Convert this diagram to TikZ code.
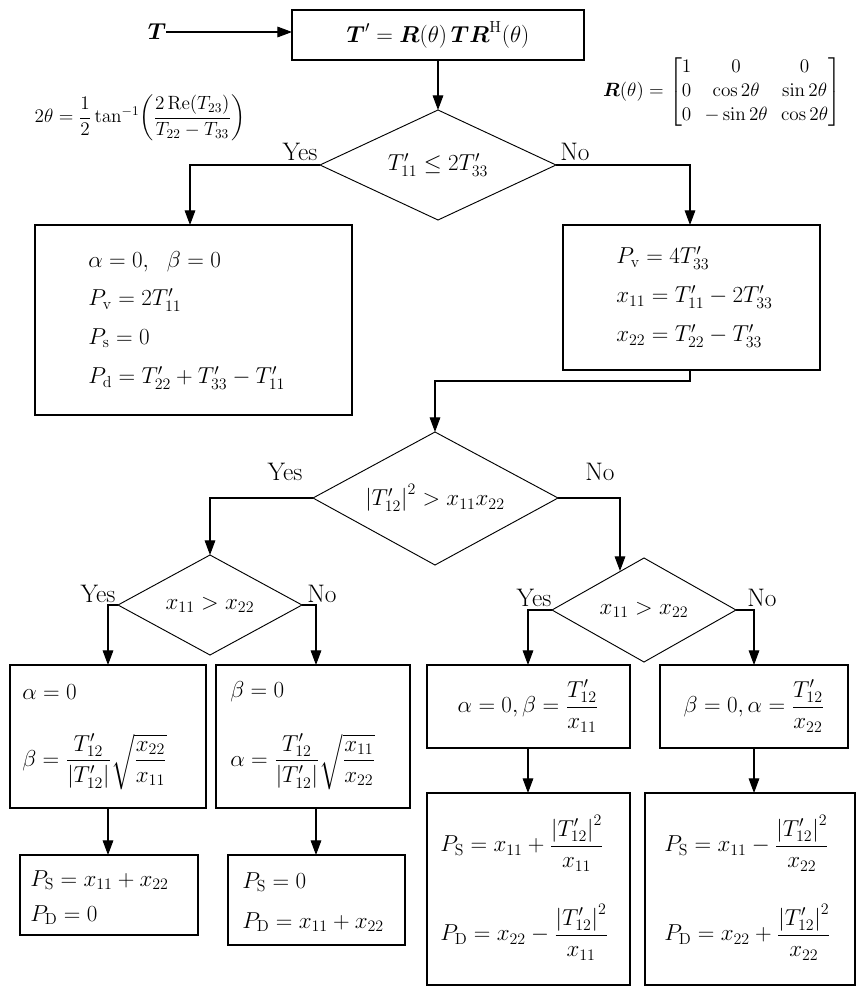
\documentclass[tikz,border=0pt]{standalone}
\usepackage{amsmath}
\usetikzlibrary{arrows.meta,shapes.geometric}
\begin{document}
\begin{tikzpicture}[x=0.75pt,y=-0.75pt,
  box/.style={draw,line width=0.8pt,inner sep=0pt},
  dia/.style={draw,line width=0.7pt},
  lbl/.style={font=\fontsize{19}{22}\selectfont},
  txt/.style={font=\fontsize{17.5}{21}\selectfont,anchor=west,inner sep=0pt},
  ctxt/.style={font=\fontsize{17.5}{21}\selectfont,inner sep=0pt},
  arr/.style={line width=0.8pt,-{Triangle[length=11pt,width=8pt]}},
  ln/.style={line width=0.8pt}]
\useasboundingbox (0,0) rectangle (866,994);
% top
\node[ctxt] (T) at (157,32) {$\boldsymbol{T}$};
\draw[box] (292,10) rectangle (584,60);
\node[ctxt] (top) at (438,35) {$\boldsymbol{T}'=\boldsymbol{R}(\theta)\,\boldsymbol{T}\boldsymbol{R}^{\mathrm{H}}(\theta)$};
\coordinate (topL) at (292,32);
\draw[arr] (T.east) -- (topL);
\node[ctxt,font=\fontsize{14}{16}\selectfont] (f1) at (140,118) {$2\theta=\dfrac{1}{2}\tan^{-1}\!\left(\dfrac{2\,\mathrm{Re}(T_{23})}{T_{22}-T_{33}}\right)$};
\node[ctxt,font=\fontsize{15}{18}\selectfont] (f2) at (722,92) {$\boldsymbol{R}(\theta)=\begin{bmatrix}1&0&0\\0&\cos2\theta&\sin2\theta\\0&-\sin2\theta&\cos2\theta\end{bmatrix}$};
% diamond 1
\coordinate (d1t) at (438,110); \coordinate (d1l) at (320,165);
\coordinate (d1r) at (556,165); \coordinate (d1b) at (438,220);
\draw[dia] (d1t)--(d1r)--(d1b)--(d1l)--cycle;
\node[ctxt] (d1) at (438,165) {$T_{11}'\le 2T_{33}'$};
\coordinate (topB) at (438,60);
\draw[arr] (topB) -- (d1t);
\node[lbl] (y1) at (300,152) {Yes};
\node[lbl] (n1) at (575,152) {No};
% left box
\draw[box] (35,225) rectangle (352,415);
\node[txt] (a1) at (88,262) {$\alpha=0,\ \ \beta=0$};
\node[txt] (a2) at (88,300) {$P_{\mathrm{v}}=2T_{11}'$};
\node[txt] (a3) at (88,338) {$P_{\mathrm{s}}=0$};
\node[txt] (a4) at (88,378) {$P_{\mathrm{d}}=T_{22}'+T_{33}'-T_{11}'$};
\coordinate (lbT) at (190,225);
\draw[arr] (d1l) -| (lbT);
% right box
\draw[box] (563,225) rectangle (820,370);
\node[txt] (b1) at (616,258) {$P_{\mathrm{v}}=4T_{33}'$};
\node[txt] (b2) at (616,297) {$x_{11}=T_{11}'-2T_{33}'$};
\node[txt] (b3) at (616,336) {$x_{22}=T_{22}'-T_{33}'$};
\coordinate (rbT) at (690,225);
\draw[arr] (d1r) -| (rbT);
% diamond 2
\coordinate (d2t) at (435,432); \coordinate (d2l) at (313,498);
\coordinate (d2r) at (558,498); \coordinate (d2b) at (435,565);
\draw[dia] (d2t)--(d2r)--(d2b)--(d2l)--cycle;
\node[ctxt] (d2) at (435,498) {$\left|T_{12}'\right|^2>x_{11}x_{22}$};
\coordinate (rbB) at (690,370); \coordinate (j1) at (690,381); \coordinate (j2) at (435,381);
\draw[arr] (rbB) -- (j1) -- (j2) -- (d2t);
\node[lbl] (y2) at (285,472) {Yes};
\node[lbl] (n2) at (600,472) {No};
% diamond 3
\coordinate (d3t) at (210,555); \coordinate (d3l) at (118,605);
\coordinate (d3r) at (302,605); \coordinate (d3b) at (210,655);
\draw[dia] (d3t)--(d3r)--(d3b)--(d3l)--cycle;
\node[ctxt] (d3) at (210,605) {$x_{11}>x_{22}$};
\draw[arr] (d2l) -| (d3t);
\node[lbl] (y3) at (98,594) {Yes};
\node[lbl] (n3) at (322,594) {No};
% diamond 4
\coordinate (d4t) at (644,558); \coordinate (d4l) at (552,610);
\coordinate (d4r) at (736,610); \coordinate (d4b) at (644,662);
\draw[dia] (d4t)--(d4r)--(d4b)--(d4l)--cycle;
\node[ctxt] (d4) at (644,610) {$x_{11}>x_{22}$};
\coordinate (j3) at (620,498); \coordinate (j4) at (620,571);
\draw[arr] (d2r) -- (j3) -- (j4);
\node[lbl] (y4) at (534,598) {Yes};
\node[lbl] (n4) at (762,598) {No};
% boxes level 4
\draw[box] (10,665) rectangle (206,808);
\node[txt] (c1) at (22,692) {$\alpha=0$};
\node[txt] (c2) at (22,762) {$\beta=\dfrac{T_{12}'}{\left|T_{12}'\right|}\sqrt{\dfrac{x_{22}}{x_{11}}}$};
\draw[box] (216,665) rectangle (410,808);
\node[txt] (e1) at (230,692) {$\beta=0$};
\node[txt] (e2) at (230,762) {$\alpha=\dfrac{T_{12}'}{\left|T_{12}'\right|}\sqrt{\dfrac{x_{11}}{x_{22}}}$};
\coordinate (c0) at (108,665); \coordinate (e0) at (316,665);
\draw[arr] (d3l) -- (108,605) -- (c0);
\draw[arr] (d3r) -- (316,605) -- (e0);
\draw[box] (427,665) rectangle (630,748);
\node[ctxt] (g1) at (528,706) {$\alpha=0,\beta=\dfrac{T_{12}'}{x_{11}}$};
\draw[box] (660,665) rectangle (848,748);
\node[ctxt] (h1) at (754,706) {$\beta=0,\alpha=\dfrac{T_{12}'}{x_{22}}$};
\coordinate (g0) at (528,665); \coordinate (h0) at (754,665);
\draw[arr] (d4l) -- (528,610) -- (g0);
\draw[arr] (d4r) -- (754,610) -- (h0);
% bottom boxes
\draw[box] (20,855) rectangle (198,935);
\node[txt] (k1) at (30,880) {$P_{\mathrm{S}}=x_{11}+x_{22}$};
\node[txt] (k2) at (30,915) {$P_{\mathrm{D}}=0$};
\draw[box] (228,855) rectangle (405,945);
\node[txt] (m1) at (242,882) {$P_{\mathrm{S}}=0$};
\node[txt] (m2) at (242,922) {$P_{\mathrm{D}}=x_{11}+x_{22}$};
\draw[box] (427,793) rectangle (630,985);
\node[txt] (p1) at (440,843) {$P_{\mathrm{S}}=x_{11}+\dfrac{\left|T_{12}'\right|^2}{x_{11}}$};
\node[txt] (p2) at (440,932) {$P_{\mathrm{D}}=x_{22}-\dfrac{\left|T_{12}'\right|^2}{x_{11}}$};
\draw[box] (645,793) rectangle (855,985);
\node[txt] (q1) at (664,843) {$P_{\mathrm{S}}=x_{11}-\dfrac{\left|T_{12}'\right|^2}{x_{22}}$};
\node[txt] (q2) at (664,932) {$P_{\mathrm{D}}=x_{22}+\dfrac{\left|T_{12}'\right|^2}{x_{22}}$};
\coordinate (c9) at (108,808); \coordinate (k0) at (108,855);
\coordinate (e9) at (316,808); \coordinate (m0) at (316,855);
\coordinate (g9) at (528,748); \coordinate (p0) at (528,793);
\coordinate (h9) at (754,748); \coordinate (q0) at (754,793);
\draw[arr] (c9) -- (k0);
\draw[arr] (e9) -- (m0);
\draw[arr] (g9) -- (p0);
\draw[arr] (h9) -- (q0);
\end{tikzpicture}
\end{document}
